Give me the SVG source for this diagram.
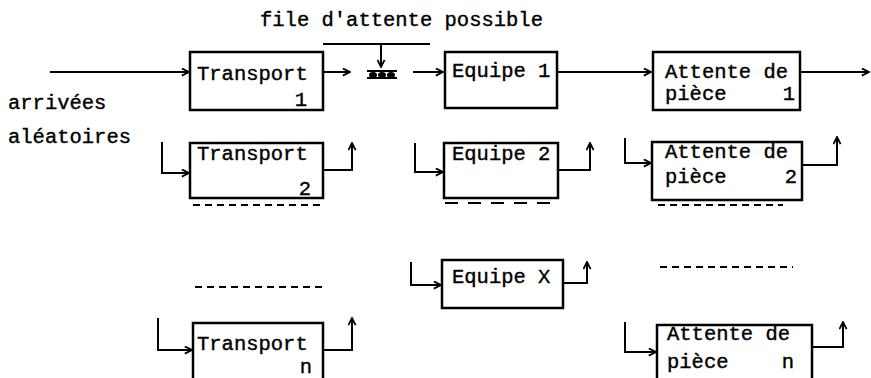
<svg xmlns="http://www.w3.org/2000/svg" width="871" height="378" viewBox="0 0 871 378">
<defs>
<marker id="ah" viewBox="0 0 10 10" refX="9" refY="5" markerWidth="9" markerHeight="9" markerUnits="userSpaceOnUse" orient="auto">
<path d="M1,1 L9,5 L1,9" fill="none" stroke="#000" stroke-width="2"/>
</marker>
<style>
.box{fill:none;stroke:#000;stroke-width:2.5}
.ln{fill:none;stroke:#000;stroke-width:2}
.ar{fill:none;stroke:#000;stroke-width:2;marker-end:url(#ah)}
.ds{fill:none;stroke:#000;stroke-width:2;stroke-dasharray:7 5}
text{font-family:"Liberation Mono","Courier New",monospace;font-size:20.5px;fill:#000;stroke:#000;stroke-width:0.4}
.e{text-anchor:end}
</style>
</defs>
<rect width="871" height="378" fill="#fff"/>
<text x="260" y="26">file d'attente possible</text>
<text x="8" y="109">arrivées</text>
<text x="8" y="143">aléatoires</text>

<g id="connectors">
<path class="ar" d="M50,72 H189"/>
<path class="ar" d="M324,72 H350"/>
<path class="ln" d="M323,44 H430"/>
<path class="ar" d="M381,44 V67"/>
<path class="ar" d="M413,72 H443"/>
<path class="ar" d="M558,72 H651"/>
<path class="ar" d="M801,72 H869"/>
<path class="ar" d="M162,142 V173 H189"/>
<path class="ar" d="M324,170 H352 V143"/>
<path class="ar" d="M158,318 V350 H192"/>
<path class="ar" d="M324,350 H352 V318"/>
<path class="ar" d="M415,143 V172 H443"/>
<path class="ar" d="M559,170 H590 V143"/>
<path class="ar" d="M411,262 V285 H441"/>
<path class="ar" d="M564,283 H587 V262"/>
<path class="ar" d="M625,138 V163 H651"/>
<path class="ar" d="M803,165 H837 V137"/>
<path class="ar" d="M625,322 V352 H656"/>
<path class="ar" d="M813,347 H843 V322"/>
<path class="ds" d="M193,205 H325"/>
<path class="ds" d="M195,287 H327"/>
<path class="ds" d="M445,203 H557" style="stroke-dasharray:13 10"/>
<path class="ds" d="M658,205 H783"/>
<path class="ds" d="M660,267 H793"/>
</g>

<g id="queue">
<path class="ln" d="M367,71 H397"/>
<ellipse cx="373" cy="75" rx="4" ry="3" fill="#000"/>
<ellipse cx="382" cy="75" rx="4" ry="3" fill="#000"/>
<ellipse cx="391" cy="75" rx="4" ry="3" fill="#000"/>
<path class="ln" d="M367,78 H397" stroke-width="1.5"/>
</g>

<g id="transport1"><rect class="box" x="190" y="52" width="133" height="58"/><text x="197" y="80">Transport</text><text class="e" x="307" y="106">1</text></g>
<g id="transport2"><rect class="box" x="190" y="143" width="133" height="55"/><text x="197" y="160">Transport</text><text class="e" x="311" y="195">2</text></g>
<g id="transportn"><rect class="box" x="193" y="323" width="130" height="60"/><text x="197" y="350">Transport</text><text class="e" x="312" y="373">n</text></g>

<g id="equipe1"><rect class="box" x="445" y="52" width="112" height="56"/><text x="452" y="77">Equipe 1</text></g>
<g id="equipe2"><rect class="box" x="444" y="143" width="114" height="55"/><text x="452" y="160">Equipe 2</text></g>
<g id="equipeX"><rect class="box" x="442" y="260" width="121" height="48"/><text x="452" y="283">Equipe X</text></g>

<g id="attente1"><rect class="box" x="653" y="52" width="147" height="58"/><text x="665" y="78">Attente de</text><text x="665" y="100">pièce</text><text class="e" x="795" y="100">1</text></g>
<g id="attente2"><rect class="box" x="652" y="142" width="150" height="58"/><text x="665" y="158">Attente de</text><text x="665" y="183">pièce</text><text class="e" x="797" y="183">2</text></g>
<g id="attenten"><rect class="box" x="657" y="325" width="155" height="60"/><text x="667" y="340">Attente de</text><text x="667" y="368">pièce</text><text class="e" x="794" y="368">n</text></g>
</svg>
